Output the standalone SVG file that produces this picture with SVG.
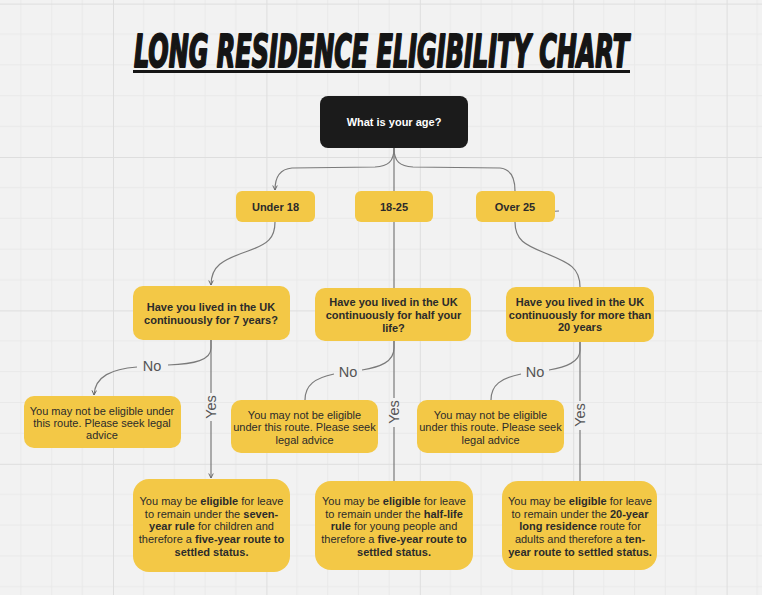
<svg xmlns="http://www.w3.org/2000/svg" width="762" height="595" viewBox="0 0 762 595">
<style>
.node{fill:#f3c846;}
.dark{fill:#1b1b1b;}
.t{font-family:"Liberation Sans",Arial,sans-serif;font-size:11px;fill:#2b2b2b;text-anchor:middle;}
.b{font-weight:bold;}
.w{fill:#ffffff;font-weight:bold;}
.c{fill:none;stroke:#7a7a7a;stroke-width:1.2;}
.lab{font-family:"Liberation Sans",Arial,sans-serif;font-size:14.5px;fill:#555555;text-anchor:middle;}
</style>
<defs>
<pattern id="grid" patternUnits="userSpaceOnUse" x="113" y="157" width="153.4" height="153.4">
<path d="M30.68 0V153.4M61.36 0V153.4M92.04 0V153.4M122.72 0V153.4M0 30.68H153.4M0 61.36H153.4M0 92.04H153.4M0 122.72H153.4" stroke="#e9e9e9" stroke-width="1" fill="none"/>
<path d="M0.5 0V153.4M0 0.5H153.4" stroke="#dedede" stroke-width="1" fill="none"/>
</pattern>
<marker id="arr" viewBox="0 0 8 8" refX="7" refY="4" markerWidth="6" markerHeight="6" orient="auto" markerUnits="userSpaceOnUse">
<path d="M1 1L7 4L1 7" fill="none" stroke="#666" stroke-width="1.3"/>
</marker>
</defs>
<rect width="762" height="595" fill="#f2f2f2"/>
<rect width="762" height="595" fill="url(#grid)"/>

<g id="title">
<text transform="translate(134 67) scale(1 1.72)" x="0" y="0" textLength="495" lengthAdjust="spacingAndGlyphs" font-family="'DejaVu Sans Condensed','DejaVu Sans',sans-serif" font-weight="bold" font-style="italic" font-size="25.5" fill="#151515" stroke="#151515" stroke-width="1.6" vector-effect="non-scaling-stroke" stroke-linejoin="round">LONG RESIDENCE ELIGIBILITY CHART</text>
<rect x="133" y="70" width="497" height="3" fill="#151515"/>
</g>

<g id="connectors">
<path class="c" d="M394 148V191"/>
<path class="c" d="M394 148C394 162 388 166 375 167L292 168C280 169 275 178 275 190" marker-end="url(#arr)"/>
<path class="c" d="M394 148C394 162 400 166 413 167L500 168C510 169 515 176 515 191"/>
<path class="c" d="M541 212L559 211"/>
<path class="c" d="M275 222C275 238 268 244 248 251C222 260 211 266 211 285" marker-end="url(#arr)"/>
<path class="c" d="M394 222V288"/>
<path class="c" d="M515 222C515 240 525 245 545 253C570 263 580 268 580 287"/>
<path class="c" d="M211 340V348C211 360 195 364 168 365"/>
<path class="c" d="M137 367C112 369 95 376 94 395" marker-end="url(#arr)"/>
<path class="c" d="M211 340V393"/>
<path class="c" d="M211 421V478" marker-end="url(#arr)"/>
<path class="c" d="M394 341V348C394 362 380 367 362 370"/>
<path class="c" d="M334 374C315 378 305 385 305 400"/>
<path class="c" d="M394 341V398"/>
<path class="c" d="M394 427V481"/>
<path class="c" d="M580 342V350C580 362 566 367 549 370"/>
<path class="c" d="M521 374C501 378 491 385 491 400"/>
<path class="c" d="M580 342V401"/>
<path class="c" d="M580 430V481"/>
<text class="lab" x="152" y="371">No</text>
<text class="lab" x="348" y="377">No</text>
<text class="lab" x="535" y="377">No</text>
<text class="lab" x="216" y="407" transform="rotate(-90 216 407)">Yes</text>
<text class="lab" x="399" y="412" transform="rotate(-90 399 412)">Yes</text>
<text class="lab" x="585" y="415" transform="rotate(-90 585 415)">Yes</text>
</g>

<g id="age">
<rect class="dark" x="320" y="96" width="148" height="52" rx="8"/>
<text class="t w" x="394" y="126">What is your age?</text>
</g>

<g id="under18">
<rect class="node" x="236" y="191" width="79" height="31" rx="6"/>
<text class="t b" x="275.5" y="210.5">Under 18</text>
</g>
<g id="age18to25">
<rect class="node" x="355" y="191" width="78" height="31" rx="6"/>
<text class="t b" x="394" y="210.5">18-25</text>
</g>
<g id="over25">
<rect class="node" x="476" y="191" width="79" height="31" rx="6"/>
<text class="t b" x="515" y="210.5">Over 25</text>
</g>

<g id="q1">
<rect class="node" x="133" y="286" width="157" height="54" rx="10"/>
<text class="t b" x="211" y="310.5">Have you lived in the UK</text>
<text class="t b" x="211" y="323.5">continuously for 7 years?</text>
</g>
<g id="q2">
<rect class="node" x="315" y="288" width="156" height="53" rx="10"/>
<text class="t b" x="393.5" y="305.5">Have you lived in the UK</text>
<text class="t b" x="393.5" y="318.5">continuously for half your</text>
<text class="t b" x="393.5" y="331.5">life?</text>
</g>
<g id="q3">
<rect class="node" x="506" y="287" width="148" height="55" rx="10"/>
<text class="t b" x="580" y="306">Have you lived in the UK</text>
<text class="t b" x="580" y="318.5">continuously for more than</text>
<text class="t b" x="580" y="331">20 years</text>
</g>

<g id="no1">
<rect class="node" x="24" y="396" width="157" height="52" rx="10"/>
<text class="t" x="102" y="415">You may not be eligible under</text>
<text class="t" x="102" y="427">this route. Please seek legal</text>
<text class="t" x="102" y="439">advice</text>
</g>
<g id="no2">
<rect class="node" x="231" y="400" width="147" height="53" rx="10"/>
<text class="t" x="304.5" y="418.5">You may not be eligible</text>
<text class="t" x="304.5" y="431">under this route. Please seek</text>
<text class="t" x="304.5" y="443.5">legal advice</text>
</g>
<g id="no3">
<rect class="node" x="417" y="400" width="147" height="53" rx="10"/>
<text class="t" x="490.5" y="418.5">You may not be eligible</text>
<text class="t" x="490.5" y="431">under this route. Please seek</text>
<text class="t" x="490.5" y="443.5">legal advice</text>
</g>

<g id="yes1">
<rect class="node" x="133" y="479" width="157" height="93" rx="16"/>
<text class="t" x="211.5" y="505">You may be <tspan class="b">eligible</tspan> for leave</text>
<text class="t" x="211.5" y="517.7">to remain under the <tspan class="b">seven-</tspan></text>
<text class="t" x="211.5" y="530.4"><tspan class="b">year rule</tspan> for children and</text>
<text class="t" x="211.5" y="543.1">therefore a <tspan class="b">five-year route to</tspan></text>
<text class="t b" x="211.5" y="555.8">settled status.</text>
</g>
<g id="yes2">
<rect class="node" x="315" y="481" width="158" height="89" rx="16"/>
<text class="t" x="394" y="505">You may be <tspan class="b">eligible</tspan> for leave</text>
<text class="t" x="394" y="517.7">to remain under the <tspan class="b">half-life</tspan></text>
<text class="t" x="394" y="530.4"><tspan class="b">rule</tspan> for young people and</text>
<text class="t" x="394" y="543.1">therefore a <tspan class="b">five-year route to</tspan></text>
<text class="t b" x="394" y="555.8">settled status.</text>
</g>
<g id="yes3">
<rect class="node" x="502" y="481" width="155" height="89" rx="16"/>
<text class="t" x="580" y="505">You may be <tspan class="b">eligible</tspan> for leave</text>
<text class="t" x="580" y="517.7">to remain under the <tspan class="b">20-year</tspan></text>
<text class="t" x="580" y="530.4"><tspan class="b">long residence</tspan> route for</text>
<text class="t" x="580" y="543.1">adults and therefore a <tspan class="b">ten-</tspan></text>
<text class="t b" x="580" y="555.8">year route to settled status.</text>
</g>
</svg>
